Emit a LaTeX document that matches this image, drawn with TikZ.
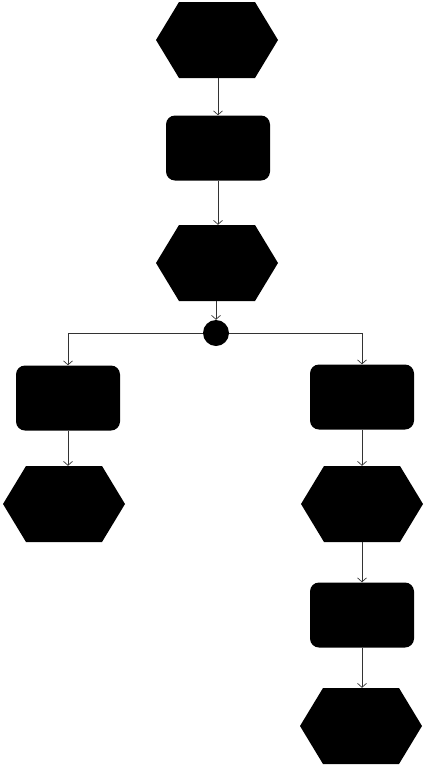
\documentclass[tikz,border=0pt]{standalone}
\usetikzlibrary{arrows.meta}
\begin{document}
\begin{tikzpicture}[x=1pt,y=-1pt,
  hexa/.style={minimum width=122pt,minimum height=76pt,inner sep=0pt,
    path picture={\fill[black] (path picture bounding box.west)
      -- ([xshift=23pt]path picture bounding box.north west)
      -- ([xshift=-23pt]path picture bounding box.north east)
      -- (path picture bounding box.east)
      -- ([xshift=-23pt]path picture bounding box.south east)
      -- ([xshift=23pt]path picture bounding box.south west) -- cycle;}},
  rbox/.style={fill=black,rounded corners=9pt,minimum width=104pt,minimum height=65pt,inner sep=0pt},
  dot/.style={circle,fill=black,minimum size=26pt,inner sep=0pt},
  conn/.style={draw=black!80,line width=0.7pt,-{Straight Barb[length=4pt,width=9pt]}}]
\useasboundingbox (0,0) rectangle (424,766);
\node[hexa] (h1) at (217,40) {};
\node[rbox] (r1) at (218,148) {};
\node[hexa] (h2) at (217,263) {};
\node[dot] (c) at (216,333) {};
\node[rbox] (rl) at (68,398) {};
\node[hexa] (hl) at (64,504) {};
\node[rbox] (rr) at (362,397) {};
\node[hexa] (hr) at (362,504) {};
\node[rbox] (rr2) at (362,615) {};
\node[hexa] (hr2) at (361,726) {};
\draw[conn] (h1.south -| r1.north) -- (r1.north);
\draw[conn] (r1.south) -- (r1.south |- h2.north);
\draw[conn] (h2.south -| c.north) -- (c.north);
\draw[conn] (c.west) -| (rl.north);
\draw[conn] (c.east) -| (rr.north);
\draw[conn] (rl.south) -- (rl.south |- hl.north);
\draw[conn] (rr.south) -- (rr.south |- hr.north);
\draw[conn] (hr.south -| rr2.north) -- (rr2.north);
\draw[conn] (rr2.south) -- (rr2.south |- hr2.north);
\end{tikzpicture}
\end{document}
